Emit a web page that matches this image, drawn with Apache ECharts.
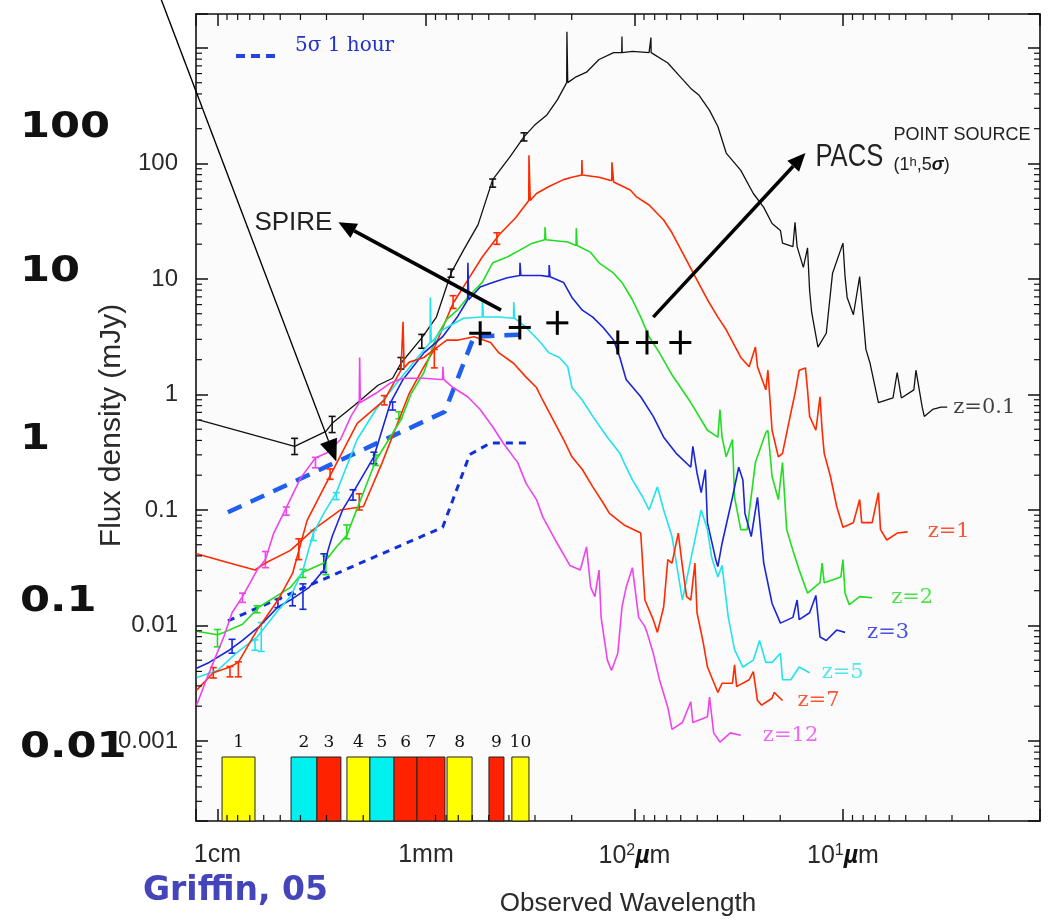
<!DOCTYPE html>
<html>
<head>
<meta charset="utf-8">
<title>Galaxy SEDs vs redshift</title>
<script src="https://cdn.jsdelivr.net/npm/echarts/dist/echarts.min.js"></script>
<style>
  html, body { margin: 0; padding: 0; background: #ffffff; }
  #chart { width: 1059px; height: 924px; }
</style>
</head>
<body>
<div id="chart"></div>
<script>
// Every value below is a log10: wavelength in µm (x) and flux density in mJy (y).

// Model spectral energy distributions, one per redshift
const sedZ01 = [[4.09,-0.22],[3.89,-0.32],[3.63,-0.45],[3.48,-0.32],[3.45,-0.25],[3.34,-0.09],[3.23,0.08],[3.16,0.14],[3.12,0.27],[3.02,0.49],[2.95,0.67],[2.88,1.05],[2.82,1.25],[2.75,1.47],[2.68,1.86],[2.60,2.05],[2.53,2.23],[2.48,2.33],[2.42,2.42],[2.37,2.55],[2.325,2.70],[2.324,3.14],[2.32,2.70],[2.28,2.75],[2.23,2.79],[2.17,2.90],[2.10,2.96],[2.061,2.96],[2.060,3.10],[2.059,2.96],[2.01,2.97],[1.93,2.96],[1.922,2.96],[1.921,3.09],[1.920,2.96],[1.84,2.87],[1.78,2.75],[1.73,2.65],[1.69,2.59],[1.64,2.46],[1.60,2.32],[1.56,2.09],[1.49,1.94],[1.43,1.74],[1.38,1.62],[1.34,1.48],[1.30,1.42],[1.29,1.31],[1.24,1.28],[1.23,1.49],[1.22,1.28],[1.19,1.10],[1.17,1.27],[1.16,0.90],[1.15,0.71],[1.12,0.41],[1.08,0.53],[1.05,1.05],[1.00,1.31],[0.99,1.02],[0.98,0.84],[0.95,0.69],[0.92,1.02],[0.89,0.39],[0.87,0.27],[0.83,-0.07],[0.76,-0.03],[0.74,0.19],[0.72,-0.03],[0.66,0.04],[0.65,0.21],[0.62,-0.11],[0.61,-0.19],[0.57,-0.13],[0.53,-0.11],[0.50,-0.11]];
const sedZ1 = [[4.10,-1.38],[3.96,-1.45],[3.82,-1.52],[3.77,-1.46],[3.65,-1.35],[3.54,-1.17],[3.41,-1.00],[3.30,-0.97],[3.21,-0.59],[3.08,0.01],[3.01,0.24],[2.97,0.36],[2.87,0.79],[2.80,0.99],[2.73,1.19],[2.65,1.38],[2.57,1.53],[2.507,1.68],[2.506,2.07],[2.50,1.68],[2.47,1.74],[2.41,1.80],[2.34,1.86],[2.30,1.88],[2.253,1.90],[2.252,2.03],[2.25,1.90],[2.17,1.88],[2.109,1.85],[2.108,2.01],[2.10,1.84],[2.02,1.77],[1.99,1.71],[1.93,1.64],[1.86,1.51],[1.82,1.40],[1.75,1.16],[1.70,0.99],[1.65,0.82],[1.60,0.67],[1.56,0.56],[1.49,0.32],[1.45,0.24],[1.42,0.41],[1.41,0.24],[1.37,0.04],[1.36,0.21],[1.34,-0.31],[1.31,-0.54],[1.29,-0.51],[1.25,-0.16],[1.23,0.01],[1.21,0.21],[1.18,0.23],[1.17,0.04],[1.16,-0.19],[1.13,-0.31],[1.11,-0.02],[1.10,-0.31],[1.09,-0.51],[1.06,-0.71],[1.03,-0.97],[1.00,-1.15],[0.95,-1.11],[0.92,-0.91],[0.91,-1.11],[0.86,-1.11],[0.83,-0.85],[0.82,-1.17],[0.79,-1.26],[0.74,-1.20],[0.69,-1.19]];
const sedZ2 = [[4.10,-2.05],[4.00,-2.08],[3.97,-2.06],[3.88,-1.99],[3.80,-1.84],[3.65,-1.67],[3.59,-1.54],[3.49,-1.46],[3.43,-1.32],[3.38,-1.22],[3.24,-0.57],[3.12,-0.22],[3.07,0.01],[3.01,0.19],[2.95,0.50],[2.90,0.65],[2.85,0.73],[2.80,0.84],[2.73,0.97],[2.68,1.14],[2.61,1.19],[2.55,1.25],[2.49,1.31],[2.43,1.34],[2.429,1.45],[2.425,1.34],[2.32,1.32],[2.28,1.29],[2.279,1.44],[2.275,1.29],[2.21,1.23],[2.17,1.14],[2.10,1.05],[2.06,0.97],[2.01,0.82],[1.97,0.67],[1.93,0.50],[1.88,0.36],[1.82,0.17],[1.73,-0.07],[1.65,-0.31],[1.60,-0.37],[1.59,-0.13],[1.58,-0.37],[1.56,-0.54],[1.53,-0.39],[1.52,-0.89],[1.49,-1.17],[1.46,-1.17],[1.42,-0.59],[1.37,-0.33],[1.36,-0.31],[1.34,-0.71],[1.31,-0.91],[1.29,-0.59],[1.27,-1.17],[1.24,-1.35],[1.21,-1.52],[1.17,-1.72],[1.11,-1.63],[1.10,-1.46],[1.09,-1.63],[1.01,-1.58],[1.00,-1.43],[0.99,-1.72],[0.97,-1.82],[0.92,-1.75],[0.86,-1.76]];
const sedZ3 = [[4.10,-2.37],[4.04,-2.32],[3.94,-2.21],[3.88,-2.13],[3.80,-2.01],[3.71,-1.84],[3.65,-1.78],[3.56,-1.67],[3.49,-1.52],[3.47,-1.35],[3.45,-1.23],[3.40,-1.00],[3.35,-0.85],[3.25,-0.54],[3.17,-0.07],[3.11,0.13],[3.01,0.36],[2.92,0.50],[2.85,0.67],[2.80,0.82],[2.799,1.14],[2.795,0.82],[2.74,0.93],[2.68,0.97],[2.61,1.01],[2.55,1.03],[2.549,1.14],[2.545,1.03],[2.45,1.03],[2.41,1.02],[2.409,1.12],[2.405,1.02],[2.34,0.97],[2.30,0.84],[2.25,0.73],[2.20,0.67],[2.15,0.58],[2.10,0.47],[2.07,0.32],[2.04,0.13],[1.97,-0.02],[1.91,-0.19],[1.86,-0.37],[1.80,-0.51],[1.73,-0.63],[1.72,-0.45],[1.70,-0.68],[1.68,-0.85],[1.66,-0.65],[1.65,-1.11],[1.61,-1.43],[1.60,-1.49],[1.58,-1.29],[1.53,-0.89],[1.50,-0.63],[1.48,-0.74],[1.47,-1.03],[1.44,-1.23],[1.41,-0.89],[1.38,-1.46],[1.34,-1.81],[1.30,-1.98],[1.24,-1.93],[1.22,-1.78],[1.21,-1.95],[1.16,-1.89],[1.13,-1.74],[1.11,-2.10],[1.08,-2.13],[1.03,-2.04],[0.99,-2.06]];
const sedZ5 = [[4.10,-2.45],[4.00,-2.39],[3.91,-2.24],[3.81,-2.10],[3.71,-1.87],[3.65,-1.75],[3.59,-1.52],[3.54,-1.20],[3.49,-1.03],[3.43,-0.85],[3.33,-0.39],[3.24,-0.13],[3.14,0.10],[3.04,0.32],[2.98,0.45],[2.979,0.84],[2.975,0.45],[2.92,0.56],[2.82,0.66],[2.73,0.67],[2.729,0.82],[2.725,0.67],[2.65,0.67],[2.58,0.66],[2.579,0.80],[2.575,0.66],[2.52,0.58],[2.45,0.45],[2.41,0.36],[2.36,0.32],[2.32,0.24],[2.30,0.06],[2.25,-0.05],[2.20,-0.19],[2.13,-0.37],[2.07,-0.51],[2.04,-0.63],[2.01,-0.74],[1.96,-0.89],[1.93,-1.00],[1.89,-0.80],[1.86,-1.00],[1.82,-1.23],[1.77,-1.78],[1.73,-1.43],[1.70,-1.17],[1.68,-1.00],[1.65,-1.17],[1.63,-1.41],[1.60,-1.58],[1.58,-1.48],[1.55,-1.93],[1.52,-2.21],[1.48,-2.36],[1.43,-2.30],[1.40,-2.13],[1.37,-2.32],[1.34,-2.32],[1.30,-2.24],[1.29,-2.47],[1.25,-2.47],[1.21,-2.36],[1.16,-2.41]];
const sedZ7 = [[4.10,-2.56],[4.02,-2.41],[3.94,-2.36],[3.90,-2.32],[3.81,-2.04],[3.71,-1.78],[3.64,-1.55],[3.57,-1.09],[3.47,-0.74],[3.33,-0.25],[3.20,-0.05],[3.12,0.21],[3.11,0.63],[3.105,0.23],[3.08,0.28],[3.01,0.32],[2.96,0.39],[2.90,0.47],[2.85,0.47],[2.77,0.50],[2.69,0.45],[2.65,0.36],[2.58,0.27],[2.52,0.15],[2.47,0.06],[2.44,-0.05],[2.39,-0.22],[2.34,-0.39],[2.30,-0.54],[2.25,-0.65],[2.20,-0.80],[2.15,-0.94],[2.12,-1.03],[2.05,-1.13],[1.97,-1.20],[1.95,-1.78],[1.91,-1.95],[1.89,-2.06],[1.86,-1.84],[1.84,-1.43],[1.82,-1.46],[1.79,-1.20],[1.77,-1.49],[1.75,-1.75],[1.73,-1.78],[1.71,-1.46],[1.70,-1.89],[1.67,-2.15],[1.65,-2.36],[1.60,-2.58],[1.58,-2.50],[1.53,-2.50],[1.52,-2.34],[1.51,-2.53],[1.45,-2.47],[1.43,-2.40],[1.41,-2.65],[1.39,-2.69],[1.34,-2.63],[1.33,-2.58],[1.29,-2.65]];
const sedZ12 = [[4.10,-2.69],[4.06,-2.50],[4.02,-2.32],[3.97,-2.10],[3.93,-1.89],[3.88,-1.75],[3.81,-1.52],[3.77,-1.43],[3.73,-1.20],[3.67,-0.98],[3.60,-0.72],[3.53,-0.55],[3.47,-0.50],[3.41,-0.39],[3.36,-0.19],[3.32,-0.07],[3.318,0.32],[3.315,-0.07],[3.24,0.01],[3.17,0.10],[3.11,0.14],[3.01,0.14],[2.93,0.13],[2.92,0.13],[2.919,0.24],[2.915,0.13],[2.87,0.06],[2.80,-0.02],[2.74,-0.13],[2.68,-0.28],[2.63,-0.42],[2.56,-0.59],[2.52,-0.77],[2.47,-0.91],[2.44,-1.06],[2.38,-1.26],[2.31,-1.48],[2.26,-1.52],[2.23,-1.32],[2.21,-1.67],[2.19,-1.75],[2.17,-1.52],[2.16,-1.93],[2.13,-2.30],[2.11,-2.39],[2.08,-2.24],[2.06,-1.84],[2.04,-1.67],[2.01,-1.50],[1.98,-1.93],[1.95,-2.01],[1.94,-2.06],[1.91,-2.24],[1.88,-2.47],[1.84,-2.71],[1.82,-2.90],[1.77,-2.84],[1.73,-2.66],[1.72,-2.84],[1.65,-2.79],[1.64,-2.62],[1.62,-2.93],[1.59,-3.01],[1.54,-2.93],[1.49,-2.95]];

// Error bars on the models: [wavelength, flux, half-length], all log10
const errZ01 = [[3.63,-0.45,0.07],[3.45,-0.26,0.07],[3.12,0.27,0.05],[3.02,0.46,0.06],[2.88,1.05,0.035],[2.68,1.83,0.035],[2.53,2.23,0.035]];
const errZ1 = [[3.61,-1.34,0.09],[3.32,-0.93,0.07],[2.96,0.31,0.08],[2.87,0.80,0.055],[2.66,1.35,0.05]];
const errZ2 = [[4.00,-2.11,0.075],[3.81,-1.86,0.03],[3.59,-1.55,0.035],[3.48,-1.48,0.08],[3.38,-1.19,0.06],[3.24,-0.57,0.045],[3.13,-0.18,0.03]];
const errZ3 = [[3.93,-2.18,0.06],[3.71,-1.81,0.035],[3.64,-1.78,0.05],[3.59,-1.75,0.11],[3.49,-1.46,0.08],[3.35,-0.87,0.045],[3.25,-0.55,0.05],[3.16,-0.10,0.035]];
const errZ5 = [[3.82,-2.17,0.045],[3.79,-2.10,0.125],[3.54,-1.22,0.045],[3.43,-0.88,0.03]];
const errZ7 = [[4.02,-2.41,0.045],[3.94,-2.40,0.045],[3.90,-2.38,0.065],[3.46,-0.69,0.045],[3.20,-0.05,0.04]];
const errZ12 = [[3.88,-1.76,0.04],[3.77,-1.43,0.07],[3.67,-1.01,0.035],[3.53,-0.59,0.045]];

// 5 sigma, 1 hour sensitivity curves
const sens5sigmaUpper = [[3.95,-1.02],[2.91,-0.15],[2.77,0.50],[2.52,0.52]];
const sens5sigmaLower = [[3.95,-1.96],[2.92,-1.15],[2.79,-0.52],[2.69,-0.42],[2.52,-0.42]];

// SPIRE and PACS point-source sensitivities (1 h, 5 sigma)
const instrumentPoints = [[2.74,0.53],[2.55,0.58],[2.37,0.62],[2.08,0.45],[1.94,0.45],[1.78,0.45]];

// Observing bands: [long edge, short edge] in log10 µm
const bandEdges = [[3.978,3.820],[3.647,3.523],[3.523,3.408],[3.379,3.269],[3.269,3.153],[3.153,3.043],[3.043,2.909],[2.899,2.779],[2.698,2.626],[2.588,2.506]];
const bandNames = ['1','2','3','4','5','6','7','8','9','10'];
const bandKinds = ['y','c','r','y','c','r','r','y','r','y'];

// Axis ticks
const xTickValues = [4, 3, 2, 1];
const xTickLabels = ['1cm', '1mm', '10²µm', '10¹µm'];
const yTickValues = [-3, -2, -1, 0, 1, 2];
const yTickLabels = ['0.001', '0.01', '0.1', '1', '10', '100'];
const minorFactors = [2, 3, 4, 5, 6, 7, 8, 9];

// Second flux scale printed at the far left
const outerScaleLabels = ['100', '10', '1', '0.1', '0.01'];

const curveNames = ['z=0.1', 'z=1', 'z=2', 'z=3', 'z=5', 'z=7', 'z=12'];

// ---- styling & layout ----
const X_MIN = 0.055, X_MAX = 4.103, Y_MIN = -3.693, Y_MAX = 3.294;
const GRID = { left: 196, top: 14, width: 844, height: 807 };
const SANS = 'Liberation Sans, Arial, sans-serif';
const SERIF = 'DejaVu Serif, serif';
const BAND_TOP = -3.139;
const bandColor = { y: '#ffff00', c: '#00f0f0', r: '#ff2200' };
const curveStyles = [
  { data: sedZ01, err: errZ01, color: '#111111', width: 1.3, labelGap: 6 },
  { data: sedZ1,  err: errZ1,  color: '#ff2a00', width: 1.6, labelGap: 20 },
  { data: sedZ2,  err: errZ2,  color: '#22dd22', width: 1.6, labelGap: 19 },
  { data: sedZ3,  err: errZ3,  color: '#1a26d6', width: 1.6, labelGap: 22 },
  { data: sedZ5,  err: errZ5,  color: '#22e2ec', width: 1.6, labelGap: 12 },
  { data: sedZ7,  err: errZ7,  color: '#ff2a00', width: 1.6, labelGap: 15 },
  { data: sedZ12, err: errZ12, color: '#ee44ee', width: 1.6, labelGap: 22 }
];
const outerScaleY = [128, 272, 440, 602, 748];

function tickText(values, labels, v) {
  const i = values.findIndex(t => Math.abs(t - v) < 1e-6);
  return i < 0 ? '' : labels[i];
}
function richWavelength(s) {
  const m = s.match(/^10([¹²³])µm$/);
  if (!m) return '{t|' + s + '}';
  const sup = { '¹': '1', '²': '2', '³': '3' }[m[1]];
  return '{t|10}{sup|' + sup + '}{mu|µ}{t|m}';
}

const xMinor = [], yMinor = [];
for (let n = -1; n <= 4; n++) minorFactors.forEach(k => {
  const v = n + Math.log10(k);
  if (v > X_MIN && v < X_MAX) xMinor.push([v, 0]);
});
for (let n = -4; n <= 3; n++) minorFactors.forEach(k => {
  const v = n + Math.log10(k);
  if (v > Y_MIN && v < Y_MAX) yMinor.push([1, v]);
});

const frameLine = { show: true, onZero: false, lineStyle: { color: '#111', width: 1.6 } };
const majorTick = { show: true, inside: true, length: 12, lineStyle: { color: '#111', width: 1.5 } };

const series = [];

// observing bands along the bottom
series.push({
  type: 'custom', name: 'bands', silent: true, z: 1,
  data: bandEdges.map((e, i) => [e[0], e[1], i]),
  renderItem(params, api) {
    const cs = params.coordSys;
    const i = api.value(2);
    const a = api.coord([api.value(0), BAND_TOP]);
    const b = api.coord([api.value(1), BAND_TOP]);
    const x = Math.min(a[0], b[0]), w = Math.abs(b[0] - a[0]);
    const bottom = cs.y + cs.height;
    return {
      type: 'group', children: [
        { type: 'rect', shape: { x: x, y: a[1], width: w, height: bottom - a[1] },
          style: { fill: bandColor[bandKinds[i]], stroke: '#222', lineWidth: 1 } },
        { type: 'text', style: { text: bandNames[i], x: x + w / 2, y: a[1] - 14,
          align: 'center', verticalAlign: 'middle', font: '17px ' + SERIF, fill: '#111' } }
      ]
    };
  }
});

// minor log ticks on all four sides
series.push({
  type: 'custom', name: 'xminor', silent: true, z: 5, data: xMinor,
  renderItem(params, api) {
    const cs = params.coordSys;
    const x = api.coord([api.value(0), 0])[0];
    const st = { stroke: '#111', lineWidth: 1.2 };
    return { type: 'group', children: [
      { type: 'line', shape: { x1: x, y1: cs.y + cs.height, x2: x, y2: cs.y + cs.height - 6 }, style: st },
      { type: 'line', shape: { x1: x, y1: cs.y, x2: x, y2: cs.y + 6 }, style: st }
    ] };
  }
});
series.push({
  type: 'custom', name: 'yminor', silent: true, z: 5, data: yMinor,
  renderItem(params, api) {
    const cs = params.coordSys;
    const y = api.coord([1, api.value(1)])[1];
    const st = { stroke: '#111', lineWidth: 1.2 };
    return { type: 'group', children: [
      { type: 'line', shape: { x1: cs.x, y1: y, x2: cs.x + 6, y2: y }, style: st },
      { type: 'line', shape: { x1: cs.x + cs.width, y1: y, x2: cs.x + cs.width - 6, y2: y }, style: st }
    ] };
  }
});

// sensitivity curves
series.push({
  type: 'line', name: '5 sigma 1 hour', data: sens5sigmaUpper, showSymbol: false, z: 3,
  lineStyle: { color: '#1f5ff0', width: 4.5, type: [15, 10] }
});
series.push({
  type: 'line', name: '5 sigma 1 hour (lower)', data: sens5sigmaLower, showSymbol: false, z: 3,
  lineStyle: { color: '#1030d8', width: 3, type: [7, 6] }
});

// SED curves with their error bars and redshift labels at the short-wavelength end
curveStyles.forEach((c, k) => {
  series.push({
    type: 'line', name: curveNames[k], data: c.data, showSymbol: false, z: 4,
    lineStyle: { color: c.color, width: c.width }
  });
  series.push({
    type: 'scatter', name: curveNames[k] + ' label', silent: true, z: 7,
    data: [c.data[c.data.length - 1]], symbolSize: 0.1,
    itemStyle: { color: 'rgba(0,0,0,0)' },
    label: {
      show: true, position: 'right', distance: c.labelGap, formatter: curveNames[k],
      color: c.color, fontFamily: SERIF, fontSize: 21
    }
  });
  series.push({
    type: 'custom', name: curveNames[k] + ' errors', data: c.err, silent: true, z: 4,
    renderItem(params, api) {
      const lo = api.coord([api.value(0), api.value(1) - api.value(2)]);
      const hi = api.coord([api.value(0), api.value(1) + api.value(2)]);
      const st = { stroke: c.color, lineWidth: 1.6 };
      return { type: 'group', children: [
        { type: 'line', shape: { x1: lo[0], y1: lo[1], x2: hi[0], y2: hi[1] }, style: st },
        { type: 'line', shape: { x1: lo[0] - 3.5, y1: lo[1], x2: lo[0] + 3.5, y2: lo[1] }, style: st },
        { type: 'line', shape: { x1: hi[0] - 3.5, y1: hi[1], x2: hi[0] + 3.5, y2: hi[1] }, style: st }
      ] };
    }
  });
});

// SPIRE / PACS sensitivity crosses
series.push({
  type: 'custom', name: 'instrument sensitivity', data: instrumentPoints, silent: true, z: 6,
  renderItem(params, api) {
    const p = api.coord([api.value(0), api.value(1)]);
    const st = { stroke: '#000', lineWidth: 3 };
    return { type: 'group', children: [
      { type: 'line', shape: { x1: p[0] - 11, y1: p[1], x2: p[0] + 11, y2: p[1] }, style: st },
      { type: 'line', shape: { x1: p[0], y1: p[1] - 12, x2: p[0], y2: p[1] + 12 }, style: st }
    ] };
  }
});

const option = {
  animation: false,
  backgroundColor: '#ffffff',
  grid: Object.assign({ show: true, backgroundColor: '#fbfbfb', borderWidth: 0, containLabel: false, outerBoundsMode: 'none' }, GRID),
  xAxis: [
    {
      type: 'value', min: X_MIN, max: X_MAX, inverse: true, position: 'bottom', splitNumber: 5,
      axisLine: frameLine, axisTick: majorTick, splitLine: { show: false },
      axisLabel: {
        margin: 22, color: '#2a2a2a', fontFamily: SANS, fontSize: 25,
        formatter: v => { const s = tickText(xTickValues, xTickLabels, v); return s ? richWavelength(s) : ''; },
        rich: {
          t: { fontFamily: SANS, fontSize: 25, color: '#2a2a2a' },
          sup: { fontFamily: SANS, fontSize: 16, color: '#2a2a2a', verticalAlign: 'top', padding: [0, 0, 10, 0] },
          mu: { fontFamily: SANS, fontSize: 25, color: '#111', fontWeight: 'bold', fontStyle: 'italic' }
        }
      },
      name: 'Observed Wavelength', nameLocation: 'middle', nameGap: 70, nameMoveOverlap: false,
      nameTextStyle: { fontFamily: SANS, fontSize: 26, color: '#2a2a2a', padding: [0, 0, 0, 20] }
    },
    {
      type: 'value', min: X_MIN, max: X_MAX, inverse: true, position: 'top', splitNumber: 5,
      axisLine: frameLine, axisTick: majorTick, axisLabel: { show: false }, splitLine: { show: false }
    }
  ],
  yAxis: [
    {
      type: 'value', min: Y_MIN, max: Y_MAX, position: 'left', splitNumber: 7,
      axisLine: frameLine, axisTick: majorTick, splitLine: { show: false },
      axisLabel: {
        margin: 18, color: '#2a2a2a', fontFamily: SANS, fontSize: 24,
        formatter: v => tickText(yTickValues, yTickLabels, v)
      },
      name: 'Flux density (mJy)', nameLocation: 'middle', nameGap: 69, nameMoveOverlap: false,
      nameTextStyle: { fontFamily: SANS, fontSize: 30, color: '#2a2a2a', padding: [0, 16, 0, 0] }
    },
    {
      type: 'value', min: Y_MIN, max: Y_MAX, position: 'right', splitNumber: 7,
      axisLine: frameLine, axisTick: majorTick, axisLabel: { show: false }, splitLine: { show: false }
    }
  ],
  series: series
};

const chart = echarts.init(document.getElementById('chart'), null, { renderer: 'canvas' });
chart.setOption(option);

// ---- annotations placed in data coordinates ----
const toPx = p => chart.convertToPixel({ gridIndex: 0 }, p);
function arrow(from, to, width, headLen, headHalf) {
  const a = toPx(from), b = toPx(to);
  const dx = b[0] - a[0], dy = b[1] - a[1], L = Math.hypot(dx, dy);
  const ux = dx / L, uy = dy / L;
  const bx = b[0] - ux * headLen, by = b[1] - uy * headLen;
  return [
    { type: 'line', z: 100, shape: { x1: a[0], y1: a[1], x2: bx, y2: by }, style: { stroke: '#000', lineWidth: width } },
    { type: 'polygon', z: 100, shape: { points: [[b[0], b[1]], [bx - uy * headHalf, by + ux * headHalf], [bx + uy * headHalf, by - ux * headHalf]] }, style: { fill: '#000' } }
  ];
}

const spireTip = [3.42, 1.49], pacsTip = [1.18, 2.09];
const graphics = [].concat(
  arrow([4.27, 3.42], [3.43, -0.58], 1.4, 22, 9),
  arrow([2.64, 0.73], spireTip, 3.5, 18, 8),
  arrow([1.91, 0.67], pacsTip, 3.5, 18, 8)
);
const st = toPx(spireTip), pt = toPx(pacsTip);
graphics.push(
  { type: 'text', z: 100, style: { text: 'SPIRE', x: st[0] - 6, y: st[1], align: 'right', verticalAlign: 'middle', font: '26px ' + SANS, fill: '#222' } },
  { type: 'text', z: 100, x: pt[0] + 10, y: pt[1] + 4, scaleX: 0.8,
    style: { text: 'PACS', x: 0, y: 0, align: 'left', verticalAlign: 'middle', font: '32px ' + SANS, fill: '#222' } },
  { type: 'text', z: 100, style: { text: 'POINT SOURCE', x: pt[0] + 88, y: pt[1] - 18, align: 'left', verticalAlign: 'middle', font: '18px ' + SANS, fill: '#222' } },
  { type: 'text', z: 100, style: {
      text: '{a|(1}{s|h}{a|,5}{b|σ}{a|)}', x: pt[0] + 88, y: pt[1] + 12, align: 'left', verticalAlign: 'middle',
      rich: {
        a: { fontFamily: SANS, fontSize: 18, fill: '#222' },
        s: { fontFamily: SANS, fontSize: 13, fill: '#222', verticalAlign: 'top', padding: [0, 0, 6, 0] },
        b: { fontFamily: SANS, fontSize: 18, fontWeight: 'bold', fontStyle: 'italic', fill: '#111' }
      } } }
);

// legend for the sensitivity curve
graphics.push(
  { type: 'line', z: 100, shape: { x1: 236, y1: 56, x2: 276, y2: 56 }, style: { stroke: '#2244dd', lineWidth: 4, lineDash: [9, 6] } },
  { type: 'text', z: 100, style: { text: '5σ 1 hour', x: 295, y: 46, align: 'left', verticalAlign: 'middle', font: '20px ' + SERIF, fill: '#2233cc' } }
);

// far-left flux scale
outerScaleLabels.forEach((s, i) => {
  graphics.push({ type: 'text', z: 100, x: 20, y: outerScaleY[i], scaleX: 1.2,
    style: { text: s, x: 0, y: 0, align: 'left', verticalAlign: 'middle', font: 'bold 36px DejaVu Sans, sans-serif', fill: '#111' } });
});

// citation
graphics.push({ type: 'text', z: 100, style: {
  text: 'Griffin, 05', x: 143, y: 891, align: 'left', verticalAlign: 'middle',
  font: 'bold 33px DejaVu Sans, sans-serif', fill: '#4444bb',
  textShadowColor: '#111', textShadowOffsetX: 2, textShadowOffsetY: 2, textShadowBlur: 0 } });

chart.setOption({ graphic: graphics });
</script>
</body>
</html>
